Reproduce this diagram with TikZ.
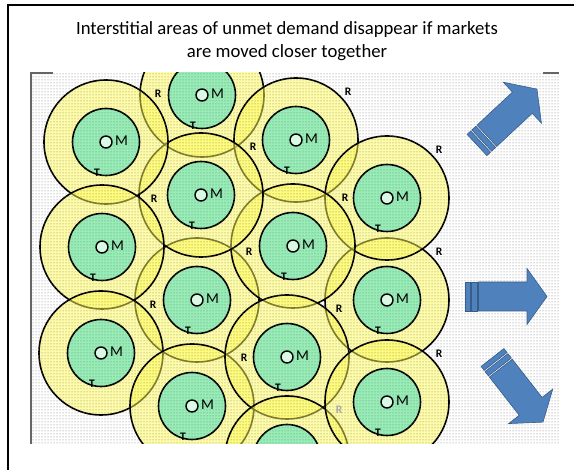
\documentclass[tikz,border=0pt]{standalone}
\usepackage{fontspec}
\setmainfont{Carlito}
\usetikzlibrary{patterns}

\definecolor{ringyellow}{RGB}{255,250,80}
\definecolor{coregreen}{RGB}{150,238,182}
\definecolor{arrowblue}{RGB}{79,129,189}
\definecolor{arrowedge}{RGB}{56,93,138}

\tikzset{
  ring/.style={draw=black, line width=1.6pt, fill=ringyellow, fill opacity=0.5},
  core/.style={draw=black, line width=1.6pt, fill=coregreen},
  spot/.style={draw=black, line width=1.4pt, fill=coregreen!35},
  mlbl/.style={inner sep=0pt, anchor=west, font=\fontsize{15}{15}\selectfont},
  rlbl/.style={inner sep=0pt, font=\bfseries\fontsize{11.5}{11.5}\selectfont},
  blockarrow/.pic={
    \filldraw[fill=arrowblue, draw=arrowedge, line width=0.6pt] (0,-14.5) rectangle (5,14.5);
    \filldraw[fill=arrowblue, draw=arrowedge, line width=0.6pt] (6.5,-14.5) rectangle (12,14.5);
    \filldraw[fill=arrowblue, draw=arrowedge, line width=0.6pt]
      (13.5,-14.5) -- (62,-14.5) -- (62,-28) -- (82,0) -- (62,28) -- (62,14.5) -- (13.5,14.5) -- cycle;
  }
}

\begin{document}
\begin{tikzpicture}[x=1pt, y=-1pt]
  \useasboundingbox (0,0) rectangle (574,470);
  \clip (0,0) rectangle (574,470);
  % frame, only left and top edges show
  \draw[line width=1.8pt] (8,480) -- (8,5) -- (590,5);
  \node[align=center, font=\fontsize{18.7}{23}\selectfont] (title) at (287,41)
    {Interstitial areas of unmet demand disappear if markets\\are moved closer together};

  % markets, lower layers first
  \begin{scope}
    \clip (31,73) rectangle (559,444);
    \foreach \x/\y/\n in {202/95/c2a, 197/300/c2c, 296/140/c3a, 387/300/c4b,
                          387/198/c4a, 293/246/c3b, 201/195/c2b, 106/142/c1a,
                          102/247/c1b, 101/353/c1c, 192/406/c2d, 287/357/c3c,
                          287/458/c3d, 387/402/c4c} {
      \coordinate (\n) at (\x,\y);
      \draw[ring] (\n) circle (62);
      \draw[core] (\n) circle (33.5);
    }
    \fill[pattern=dots, pattern color=black!55] (31,73) rectangle (559,444);
    \foreach \n in {c2a, c2c, c3a, c4b, c4a, c3b, c2b, c1a, c1b, c1c, c2d, c3c, c4c} {
      \draw[spot] (\n) circle (6);
      \node[mlbl] (\n-m) at ([shift={(9,-1.5)}]\n) {M};
      \node[rlbl] (\n-t) at ([shift={(-9,31)}]\n) {T};
    }
    \foreach \n/\rc in {c2c/black, c3a/black, c4b/black, c4a/black, c3b/black,
                        c2b/black, c1a/black, c1b/black, c1c/black, c2d/black,
                        c3c/black, c3d/black!35, c4c/black} {
      \node[rlbl, text=\rc] (\n-r) at ([shift={(52,-48)}]\n) {R};
    }
  \end{scope}
  \draw[black!60, line width=1.4pt] (31,444) -- (31,73) -- (53,73);
  \draw[black!60, line width=1.4pt] (543,73) -- (559,73);

  % arrows pushing the markets apart
  \pic[rotate=43] (upright) at (477,145) {blockarrow};
  \pic (right) at (465,296.5) {blockarrow};
  \pic[rotate=-52] (downright) at (492.5,357.5) {blockarrow};
\end{tikzpicture}
\end{document}
